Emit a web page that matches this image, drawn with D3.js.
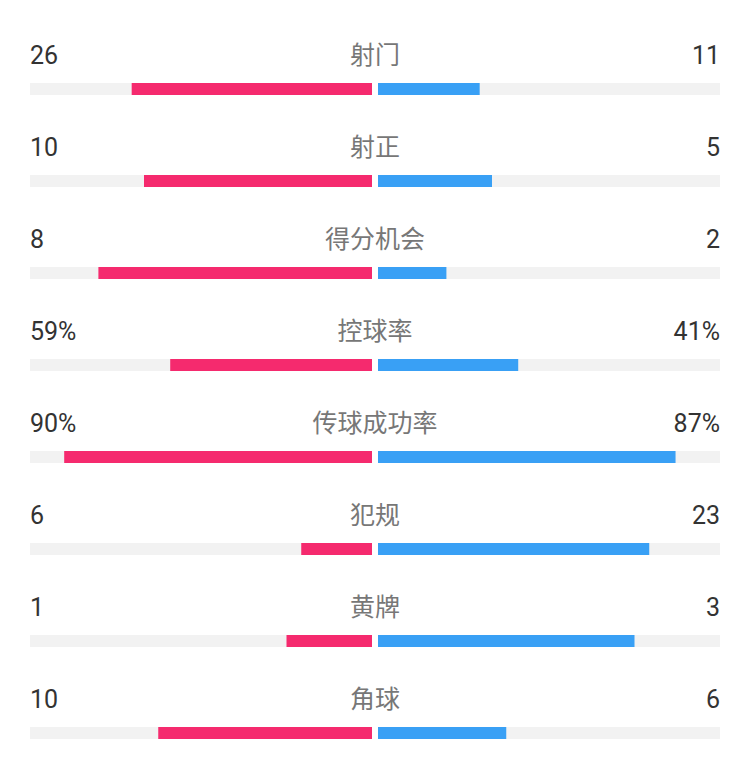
<!DOCTYPE html>
<html>
<head>
<meta charset="utf-8">
<script src="https://cdn.jsdelivr.net/npm/d3@7"></script>
<style>
  html, body { margin: 0; padding: 0; background: #fff; }
  svg { display: block; }
</style>
</head>
<body>
<script>
// match stats
const statLabels = ['射门', '射正', '得分机会', '控球率', '传球成功率', '犯规', '黄牌', '角球'];
const homeValues = [26, 10, 8, 59, 90, 6, 1, 10];
const awayValues = [11, 5, 2, 41, 87, 23, 3, 6];
const valueSuffix = ['', '', '', '%', '%', '', '', ''];

const width = 750, height = 769;
const trackLeft = 30, trackRight = 720, midX = 375, gap = 3;
const rowStep = 92, firstBaseline = 64, barOffset = 19, barH = 12;
const halfW = midX - gap - trackLeft;

const rows = statLabels.map((label, i) => ({
    label,
    home: homeValues[i],
    away: awayValues[i],
    suffix: valueSuffix[i]
}));

const svg = d3.select('body').append('svg')
    .attr('width', width)
    .attr('height', height);

const rowY = d3.scaleLinear().domain([0, 1]).range([firstBaseline, firstBaseline + rowStep]);

const g = svg.selectAll('g.statRow')
    .data(rows)
    .join('g')
    .attr('class', 'statRow')
    .attr('transform', (d, i) => `translate(0,${rowY(i)})`);

// background tracks
g.append('rect')
    .attr('x', trackLeft)
    .attr('y', barOffset)
    .attr('width', halfW)
    .attr('height', barH)
    .attr('fill', '#f2f2f2');
g.append('rect')
    .attr('x', midX + gap)
    .attr('y', barOffset)
    .attr('width', halfW)
    .attr('height', barH)
    .attr('fill', '#f2f2f2');

// share of the half track: percentages out of 100, counts out of the pair total
const lenScale = d => d3.scaleLinear()
    .domain([0, d.suffix === '%' ? 100 : d.home + d.away])
    .range([0, halfW]);

g.append('rect')
    .attr('class', 'homeBar')
    .attr('x', d => midX - gap - lenScale(d)(d.home))
    .attr('y', barOffset)
    .attr('width', d => lenScale(d)(d.home))
    .attr('height', barH)
    .attr('fill', '#f52a6e');

g.append('rect')
    .attr('class', 'awayBar')
    .attr('x', midX + gap)
    .attr('y', barOffset)
    .attr('width', d => lenScale(d)(d.away))
    .attr('height', barH)
    .attr('fill', '#39a0f5');

g.append('text')
    .attr('x', trackLeft)
    .attr('y', 0)
    .attr('font-family', 'Roboto, "Noto Sans", sans-serif')
    .attr('font-size', 25)
    .attr('fill', '#333')
    .text(d => d.home + d.suffix);

g.append('text')
    .attr('x', trackRight)
    .attr('y', 0)
    .attr('text-anchor', 'end')
    .attr('font-family', 'Roboto, "Noto Sans", sans-serif')
    .attr('font-size', 25)
    .attr('fill', '#333')
    .text(d => d.away + d.suffix);

g.append('text')
    .attr('x', midX)
    .attr('y', 0)
    .attr('text-anchor', 'middle')
    .attr('font-family', '"Noto Sans CJK SC", sans-serif')
    .attr('font-size', 25)
    .attr('fill', '#777')
    .text(d => d.label);
</script>
</body>
</html>
